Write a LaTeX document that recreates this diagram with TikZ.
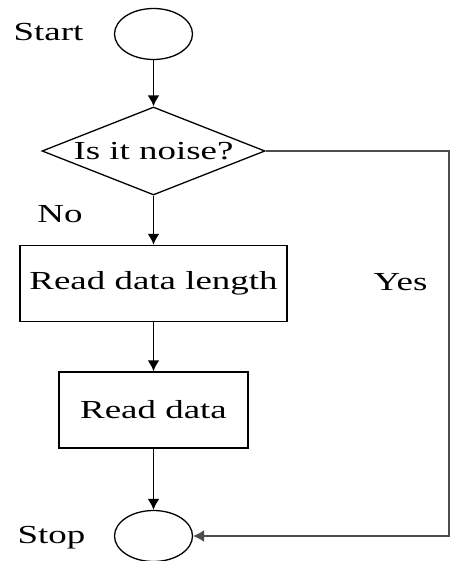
\documentclass[tikz,border=0pt]{standalone}
\usepackage{fontspec}
\setmainfont{Liberation Serif}[FakeStretch=1.42]
\usetikzlibrary{arrows.meta,shapes.geometric}

\begin{document}
\begin{tikzpicture}[x=0.5pt,y=-0.5pt,>={Latex[length=5.5pt,width=6pt]},
    font=\fontsize{13}{15}\selectfont,
    term/.style={draw,ellipse,line width=0.65pt,minimum width=39pt,minimum height=25.5pt,inner sep=0pt},
    proc/.style={draw,rectangle,line width=0.75pt,minimum height=38pt,inner sep=0pt},
    link/.style={->,line width=0.9pt}]
    \useasboundingbox (0,0) rectangle (456,561);
    % --- main column
    \node[term] (start) at (153.5,34) {};
    \node (startlbl) at (48.5,32) {Start};
    \node[draw,diamond,line width=0.65pt,aspect=2.5,inner sep=0pt,
          minimum width=111.5pt,minimum height=44pt] (noise) at (153.5,151) {Is it noise?};
    \node[proc,minimum width=133.5pt] (len) at (153.5,283.5) {Read data length};
    \node[proc,minimum width=94.5pt] (data) at (153.5,410) {Read data};
    \node[term] (stop) at (153.5,536) {};
    \node (stoplbl) at (51.5,538) {Stop};
    \node (nolbl) at (60,214.5) {No};
    \node (yeslbl) at (400.5,282) {Yes};
    \draw[link] (start) -- (noise);
    \draw[link] (noise) -- (len);
    \draw[link] (len) -- (data);
    \draw[link] (data) -- (stop);
    % --- yes branch round the right side
    \coordinate (bend) at (449,151);
    \draw[->,line width=0.6pt,black!70] (noise.east) -- (bend) |- (stop.east);
\end{tikzpicture}
\end{document}
